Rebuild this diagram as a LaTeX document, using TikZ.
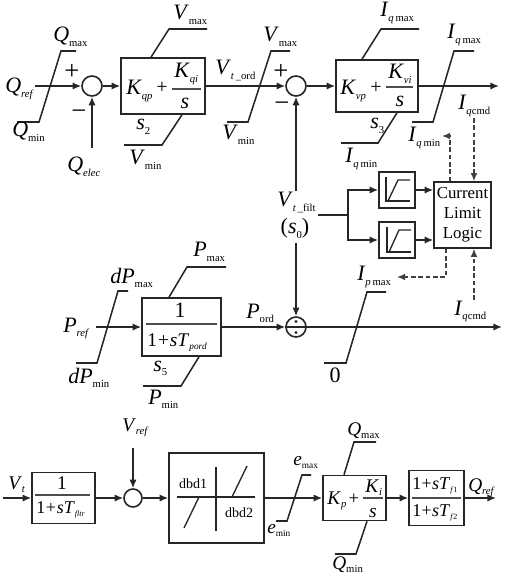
\documentclass[tikz,border=0pt]{standalone}
\usepackage{fontspec}
\setmainfont{Liberation Serif}
\usetikzlibrary{arrows.meta}
\newcommand\vs[2]{\textit{#1}\raisebox{-.2em}{\fontsize{8pt}{9pt}\selectfont #2}}
\newcommand\vsb[2]{\textit{#1}\raisebox{-.2em}{\fontsize{7pt}{8pt}\selectfont #2}}
\newcommand\vsc[2]{\textit{#1}\raisebox{-.2em}{\fontsize{6pt}{7pt}\selectfont #2}}
\tikzset{
  lab/.style={anchor=base west,inner sep=0pt,font=\fontsize{16.5pt}{18pt}\selectfont},
  labs/.style={anchor=base west,inner sep=0pt,font=\fontsize{14.5pt}{16pt}\selectfont},
  labd/.style={anchor=base west,inner sep=0pt,font=\fontsize{13.5pt}{16pt}\selectfont},
  labc/.style={anchor=base,inner sep=0pt,font=\fontsize{16.5pt}{18pt}\selectfont},
  sign/.style={inner sep=0pt,font=\fontsize{20pt}{22pt}\selectfont},
  ln/.style={line width=1.15pt,draw=black!85},
  arr/.style={ln,-{Latex[length=6.5pt,width=5.5pt]}},
  dsh/.style={line width=1pt,draw=black!75,dash pattern=on 3.5pt off 2pt},
  dsharr/.style={dsh,-{Latex[length=6pt,width=5pt]}},
  blk/.style={draw=black!85,line width=1.2pt,inner sep=0pt,fill=none},
  sumn/.style={circle,draw=black!85,line width=1.2pt,inner sep=0pt,minimum size=15pt},
  frac/.style={line width=.8pt,draw=black!70}
}
\begin{document}
\begin{tikzpicture}[x=.75pt,y=-.75pt]
\useasboundingbox (0,0) rectangle (505,580);
% --- blocks
\node[blk,minimum width=63pt,minimum height=42pt] (qp) at (163,86) {};
\node[blk,minimum width=61.5pt,minimum height=39pt] (vp) at (377,86) {};
\node[sumn] (sa) at (92,86) {};
\node[sumn] (sb) at (296,86) {};
\node[blk,minimum width=42.75pt,minimum height=49.5pt,align=center,font=\fontsize{12.6pt}{15pt}\selectfont] (cll) at (462.5,215) {Current\\Limit\\Logic};
\node[blk,minimum width=27pt,minimum height=27pt] (lima) at (397,190) {};
\node[blk,minimum width=27pt,minimum height=27pt] (limb) at (397,240) {};
\node[blk,minimum width=59.25pt,minimum height=43.5pt] (pb) at (181.5,327) {};
\node[sumn] (dv) at (296,327) {};
\node[blk,minimum width=47.25pt,minimum height=38.25pt] (fb) at (63.5,498) {};
\node[sumn,minimum size=13.5pt] (sc) at (133,498) {};
\node[blk,minimum width=71.25pt,minimum height=67.5pt] (db) at (216.5,498) {};
\node[blk,minimum width=47.25pt,minimum height=33.75pt] (pi) at (354.5,498) {};
\node[blk,minimum width=41.25pt,minimum height=41.25pt] (ll) at (436.5,498) {};
% --- free ends
\coordinate (qrefs) at (35,86);
\coordinate (qelec) at (92,148);
\coordinate (outa) at (499,86);
\coordinate (vfu) at (296,191);
\coordinate (vfd) at (296,243);
\coordinate (vfr) at (318,215);
\coordinate (brn) at (348,215);
\coordinate (prefs) at (96,327);
\coordinate (outb) at (502,327);
\coordinate (vts) at (3,498);
\coordinate (vrefs) at (133,448);
\coordinate (outc) at (496,498);
\coordinate (iqcu) at (474,118);
\coordinate (iqcd) at (474,300);
\coordinate (iqmint) at (442,136);
\coordinate (iqmine) at (450,136);
\coordinate (ipmaxt) at (397,277);
\coordinate (ipe) at (446,277);
% --- top row
\draw[arr] (qrefs) -- (sa.west);
\draw[arr] (sa.east) -- (qp.west);
\draw[arr] (qelec) -- (sa.south);
\draw[arr] (qp.east) -- (sb.west);
\draw[arr] (sb.east) -- (vp.west);
\draw[arr] (vp.east) -- (outa);
\draw[arr] (vfu) -- (sb.south);
\draw[arr] (vfd) -- (dv.north);
% --- limiters
\draw[ln] (17,122) -- (39,122) -- (61,51) -- (76,51);
\draw[ln] (151,0 |- qp.north) -- (169,29) -- (207,29);
\draw[ln] (182,0 |- qp.south) -- (162,145) -- (124,145);
\draw[ln] (227,122) -- (248,122) -- (271,51) -- (290,51);
\draw[ln] (362,0 |- vp.north) -- (381,29) -- (419,29);
\draw[ln] (397,0 |- vp.south) -- (378,143) -- (341,143);
\draw[ln] (412,122) -- (433,122) -- (454,51) -- (474,51);
\draw[ln] (324,363) -- (346,363) -- (367,292) -- (386,292);
\draw[ln] (76,363) -- (97,363) -- (118,291) -- (128,291);
\draw[ln] (169,0 |- pb.north) -- (187,267) -- (226,267);
\draw[ln] (199,0 |- pb.south) -- (181,386) -- (143,386);
\draw[ln] (276,521) -- (287,521) -- (302,475) -- (311,475);
\draw[ln] (344,0 |- pi.north) -- (354,442) -- (376,442);
\draw[ln] (367,0 |- pi.south) -- (356,554) -- (335,554);
% --- current limit section
\draw[ln] (vfr) -- (brn);
\draw[arr] (brn) |- (lima.west);
\draw[arr] (brn) |- (limb.west);
\draw[arr] (lima.east) -- (lima.east -| cll.west);
\draw[arr] (limb.east) -- (limb.east -| cll.west);
\draw[dsharr] (iqcu) -- (iqcu |- cll.north);
\draw[dsharr] (iqcd) -- (iqcd |- cll.south);
\draw[dsharr] (iqmine |- cll.north) -- (iqmine) -- (iqmint);
\draw[dsharr] (ipe |- cll.south) -- (ipe) -- (ipmaxt);
% limiter icons
\draw[ln,line width=1pt] (386,177) -- (386,201) -- (410,201);
\draw[ln,line width=1pt] (388,201) -- (398,180) -- (410,180);
\draw[ln,line width=1pt] (387,227) -- (387,252) -- (411,252);
\draw[ln,line width=1pt] (389,252) -- (399,230) -- (411,230);
% --- P row
\draw[arr] (prefs) -- (pb.west);
\draw[arr] (pb.east) -- (dv.west);
\draw[arr] (dv.east) -- (outb);
\draw[line width=.9pt,draw=black!85] (dv.west) -- (dv.east);
\fill[black!85] (296,321.5) circle (1.2pt) (296,332.5) circle (1.2pt);
% --- bottom row
\draw[arr] (vts) -- (fb.west);
\draw[arr] (fb.east) -- (sc.west);
\draw[arr] (sc.east) -- (db.west);
\draw[arr] (vrefs) -- (sc.north);
\draw[arr] (db.east) -- (pi.west);
\draw[arr] (pi.east) -- (ll.west);
\draw[arr] (ll.east) -- (outc);
% dead band icon
\draw[ln,line width=1pt] (177,497) -- (255,497);
\draw[ln,line width=1pt] (216,467) -- (216,531);
\draw[ln,line width=1pt] (199,497) -- (184,528);
\draw[ln,line width=1pt] (232,497) -- (247,466);
% --- text
\node[lab] (tqmaxa) at (53,42) {\vs{Q}{max}};
\node[lab] (tqref) at (5,93) {\vs{Q}{\textit{ref}}};
\node[lab] (tqmina) at (12,137) {\vs{Q}{min}};
\node[sign] (pa) at (72,72) {+};
\node[sign] (ma) at (79,115) {\textminus};
\node[lab] (tqelec) at (67,172) {\vs{Q}{\textit{elec}}};
\node[lab] (tvmaxa) at (173,20) {\vs{V}{max}};
\node[lab] (tvord) at (215,75) {\vs{V}{\textit{t}\,\_ord}};
\node[lab] (tsb) at (136,130) {\vs{s}{2}};
\node[lab] (tvmina) at (129,165) {\vs{V}{min}};
\node[lab] (tvminb) at (222,140) {\vs{V}{min}};
\node[lab] (tvmaxb) at (263,42) {\vs{V}{max}};
\node[sign] (pb2) at (281,72) {+};
\node[sign] (mb) at (282,107) {\textminus};
% Kqp
\node[lab] (tkqp) at (126,95) {\vs{K}{\textit{qp}}};
\node[inner sep=0pt,font=\fontsize{15pt}{18pt}\selectfont] (tpa) at (162,88) {+};
\node[lab] (tkqi) at (174,78) {\vs{K}{\textit{qi}}};
\node[labc] (tsa) at (185,109) {\textit{s}};
\draw[frac] (172,89) -- (201,89);
% Kvp
\node[lab] (tkvp) at (340,95) {\vs{K}{\textit{vp}}};
\node[inner sep=0pt,font=\fontsize{15pt}{18pt}\selectfont] (tpc) at (376,88) {+};
\node[lab] (tkvi) at (388,79) {\vs{K}{\textit{vi}}};
\node[labc] (tsc) at (400,107) {\textit{s}};
\draw[frac] (386,87) -- (413,87);
\node[lab] (tsd) at (370,129) {\vs{s}{3}};
\node[lab] (tiqmaxa) at (380,17) {\vs{I}{\textit{q}\,max}};
\node[lab] (tiqmaxb) at (447,39) {\vs{I}{\textit{q}\,max}};
\node[lab] (tiqcmda) at (458,110) {\vs{I}{\textit{q}cmd}};
\node[lab] (tiqmina) at (408,142) {\vs{I}{\textit{q}\,min}};
\node[lab] (tiqminb) at (345,163) {\vs{I}{\textit{q}\,min}};
\node[lab] (tvfilt) at (277,207) {\vs{V}{\textit{t}\,\_filt}};
\node[labc] (tso) at (295,234) {(\vs{s}{0})};
\node[lab] (tipmax) at (357,281) {\vs{I}{\textit{p}\,max}};
\node[lab] (tiqcmdb) at (454,315) {\vs{I}{\textit{q}cmd}};
\node[labc] (tzero) at (335,382) {0};
% P row
\node[lab] (tpord) at (246,318) {\vs{P}{ord}};
\node[lab] (tpmax) at (193,257) {\vs{P}{max}};
\node[lab] (tdpmax) at (110,283) {\vs{dP}{max}};
\node[lab] (tpref) at (63,332) {\vs{P}{\textit{ref}}};
\node[lab] (tdpmin) at (68,383) {\vs{dP}{min}};
\node[lab] (tse) at (153,371) {\vs{s}{5}};
\node[lab] (tpmin) at (148,404) {\vs{P}{min}};
\node[labc] (tone) at (180,317) {1};
\draw[frac] (146,324) -- (217,324);
\node[labs] (tden) at (147,346) {1\kern.8pt+\kern.8pt\vsb{sT}{\textit{pord}}};
% bottom row
\node[labs] (tvref) at (122,431) {\vs{V}{\textit{ref}}};
\node[labs] (tvt) at (8,489) {\vs{V}{\textit{t}}};
\node[labs,anchor=base] (tonec) at (62,489) {1};
\draw[frac] (35,495) -- (90,495);
\node[labd] (tdenc) at (36,513) {1\kern.5pt+\kern.5pt\vsc{sT}{\textit{fltr}}};
\node[inner sep=0pt,font=\fontsize{10.5pt}{12pt}\selectfont] (tdba) at (193,484) {dbd1};
\node[inner sep=0pt,font=\fontsize{10.5pt}{12pt}\selectfont] (tdbb) at (239,513) {dbd2};
\node[labs] (temax) at (293,465) {\vsb{e}{max}};
\node[labs] (temin) at (267,533) {\vsb{e}{min}};
\node[labs] (tqmaxb) at (347,435) {\vs{Q}{max}};
\node[labs] (tqminb) at (332,569) {\vs{Q}{min}};
\node[labs] (tkp) at (327,504) {\vs{K}{\textit{p}}};
\node[inner sep=0pt,font=\fontsize{14pt}{16pt}\selectfont] (tpd) at (354,499) {+};
\node[labs] (tki) at (365,492) {\vs{K}{\textit{i}}};
\node[labs,anchor=base] (tse2) at (373,517) {\textit{s}};
\draw[frac] (363,498) -- (383,498);
\node[labd] (tnum) at (412,489) {1\kern.3pt+\kern.3pt\vsc{sT}{\textit{f}1}};
\draw[frac] (412,498) -- (461,498);
\node[labd] (tdn) at (412,516) {1\kern.3pt+\kern.3pt\vsc{sT}{\textit{f}2}};
\node[labs] (tqrefb) at (468,491) {\vs{Q}{\textit{ref}}};
\end{tikzpicture}
\end{document}
